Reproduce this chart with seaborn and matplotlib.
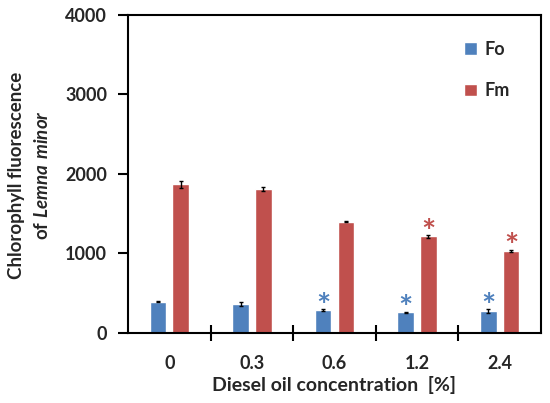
import pandas as pd
import matplotlib.pyplot as plt
import seaborn as sns

CONCENTRATIONS = ["0", "0.3", "0.6", "1.2", "2.4"]
FO_VALUES = [394, 369, 289, 260, 277]
FM_VALUES = [1870, 1807, 1400, 1216, 1035]
FO_ERRORS = [8, 25, 8, 8, 20]
FM_ERRORS = [45, 25, 10, 15, 15]
FO_SIGNIF = [False, False, True, True, True]
FM_SIGNIF = [False, False, False, True, True]

PALETTE = {"Fo": "#4F81BD", "Fm": "#C0504D"}

sns.set_style("white")
plt.rcParams["font.family"] = ["Lato", "DejaVu Sans"]
plt.rcParams["font.weight"] = "bold"
plt.rcParams["mathtext.fontset"] = "custom"
plt.rcParams["mathtext.bfit"] = "Lato:italic:bold"

df = pd.DataFrame({
    "conc": CONCENTRATIONS * 2,
    "value": FO_VALUES + FM_VALUES,
    "param": ["Fo"] * 5 + ["Fm"] * 5,
})

fig = plt.figure(figsize=(5.5, 4.03), dpi=100)
ax = fig.add_axes([0.2327, 0.1737, 0.7509, 0.7891])

sns.barplot(
    data=df, x="conc", y="value", hue="param",
    palette=PALETTE, width=0.55, gap=0.27, ax=ax,
    saturation=1, errorbar=None,
)

# error bars and significance marks on top of seaborn's bars
n = len(CONCENTRATIONS)
for container, vals, errs, sig in [
    (ax.containers[0], FO_VALUES, FO_ERRORS, FO_SIGNIF),
    (ax.containers[1], FM_VALUES, FM_ERRORS, FM_SIGNIF),
]:
    color = container.patches[0].get_facecolor()
    xs = [p.get_x() + p.get_width() / 2 for p in container.patches]
    ax.errorbar(xs, vals, yerr=errs, fmt="none", ecolor="black",
                elinewidth=1, capsize=1.5, capthick=1)
    for x, v, e, s in zip(xs, vals, errs, sig):
        if s:
            ax.text(x, v + e - 95, "*", color=color, ha="center",
                    va="baseline", fontsize=24, fontweight="bold")

ax.set_xlim(-0.5, n - 0.5)
ax.set_ylim(0, 4000)
ax.set_yticks([0, 1000, 2000, 3000, 4000])
ax.set_xticks(range(n))
ax.set_xticklabels(CONCENTRATIONS)
ax.set_xticks([i + 0.5 for i in range(n - 1)], minor=True)
ax.tick_params(axis="x", which="major", length=0, pad=16, labelsize=13)
ax.tick_params(axis="x", which="minor", length=11, width=1.5,
               direction="inout", color="black", bottom=True)
ax.tick_params(axis="y", length=7, width=1.5, direction="out",
               color="black", left=True, labelsize=13, pad=8)

for spine in ax.spines.values():
    spine.set_visible(True)
    spine.set_color("black")
    spine.set_linewidth(1.5)

ax.set_xlabel("Diesel oil concentration  [%]", fontsize=14,
              fontweight="bold", labelpad=3)
ax.set_ylabel("")
fig.text(0.03, 0.566, "Chlorophyll fluorescence", rotation=90,
         ha="center", va="center", fontsize=13.5, fontweight="bold")
fig.text(0.076, 0.566, r"of $\mathbfit{Lemna\ minor}$", rotation=90,
         ha="center", va="center", fontsize=13.5, fontweight="bold")

ax.legend(title=None, frameon=False, loc="upper left",
          bbox_to_anchor=(0.775, 0.97), labelspacing=1.35,
          handlelength=0.7, handleheight=0.7, handletextpad=0.4,
          prop={"weight": "bold", "size": 13})

fig.savefig("out.png", dpi=100)
